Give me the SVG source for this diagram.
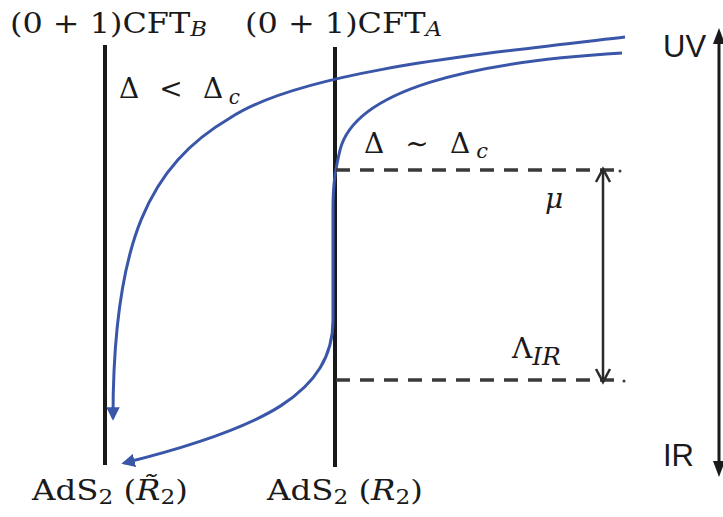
<svg xmlns="http://www.w3.org/2000/svg" width="723" height="517" viewBox="0 0 723 517">
<defs>
<style>
.tx{font-family:"DejaVu Serif","Liberation Serif",serif;font-size:28px;fill:#1a1a1a}
.it{font-style:italic}
.sf{font-family:"Liberation Sans",Arial,sans-serif;font-size:31px;fill:#1a1a1a}
.bar{stroke:#1a1a1a;stroke-width:4;fill:none}
.flow{stroke:#3a56a8;stroke-width:3;fill:none}
.dash{stroke:#3a3a3a;stroke-width:3.5;stroke-dasharray:14 10;fill:none}
.scale{stroke:#2a2a2a;stroke-width:2.5;fill:none}
</style>
<marker id="blueHead" viewBox="0 0 10 10" refX="8" refY="5" markerWidth="4.5" markerHeight="4.5" orient="auto" markerUnits="strokeWidth">
<path d="M0,0 L10,5 L0,10 z" fill="#3a56a8"/>
</marker>
</defs>
<rect width="723" height="517" fill="#ffffff"/>

<g id="cft-b">
<line class="bar" x1="105" y1="45" x2="105" y2="465"/>
<text class="tx" x="10" y="33" textLength="197" lengthAdjust="spacingAndGlyphs">(0 + 1)CFT<tspan class="it" font-size="20" dy="3">B</tspan></text>
<text class="tx" x="32" y="500" textLength="156" lengthAdjust="spacingAndGlyphs">AdS<tspan font-size="20" dy="4">2</tspan><tspan dy="-4"> (</tspan><tspan class="it">R̃</tspan><tspan font-size="20" dy="4">2</tspan><tspan dy="-4">)</tspan></text>
</g>

<g id="cft-a">
<line class="bar" x1="335" y1="47" x2="335" y2="467"/>
<text class="tx" x="245" y="33" textLength="197" lengthAdjust="spacingAndGlyphs">(0 + 1)CFT<tspan class="it" font-size="20" dy="3">A</tspan></text>
<text class="tx" x="267" y="500" textLength="156" lengthAdjust="spacingAndGlyphs">AdS<tspan font-size="20" dy="4">2</tspan><tspan dy="-4"> (</tspan><tspan class="it">R</tspan><tspan font-size="20" dy="4">2</tspan><tspan dy="-4">)</tspan></text>
</g>

<g id="label-less">
<text class="tx" x="119" y="98" font-size="28" textLength="121" lengthAdjust="spacing">Δ &lt; Δ<tspan class="it" font-size="20" dy="6">c</tspan></text>
</g>

<g id="label-sim">
<text class="tx" x="364" y="153" font-size="30" textLength="124" lengthAdjust="spacing">Δ ∼ Δ<tspan class="it" font-size="21" dy="5">c</tspan></text>
</g>

<g id="scale-mu">
<text class="tx it" x="545" y="208" font-size="33">μ</text>
<text class="tx" x="512" y="358" font-size="30">Λ<tspan class="it" font-size="25" dy="7">IR</tspan></text>
</g>

<g id="uv-ir-axis">
<line x1="719" y1="42" x2="719" y2="463" stroke="#1a1a1a" stroke-width="3"/>
<path d="M719,28 L713,44 L725,44 z" fill="#1a1a1a"/>
<path d="M719,477 L713,461 L725,461 z" fill="#1a1a1a"/>
<text class="sf" x="663" y="57">UV</text>
<text class="sf" x="663" y="466">IR</text>
</g>

<g id="connectors">
<path class="flow" d="M625,37 C 470,55 300,72 230,118 C 150,165 113,240 113,418" marker-end="url(#blueHead)"/>
<path class="flow" d="M622,53 C 470,62 355,90 340,150 C 334,175 333,190 333,210 L 333,320 C 333,392 265,428 124,463" marker-end="url(#blueHead)"/>
<line class="dash" x1="336" y1="170" x2="614" y2="170"/>
<circle cx="620" cy="171" r="1.5" fill="#3a3a3a"/>
<line class="dash" x1="336" y1="380" x2="614" y2="380"/>
<circle cx="624" cy="381" r="1.5" fill="#3a3a3a"/>
<line class="scale" x1="603" y1="171" x2="603" y2="380"/>
<path class="scale" d="M596,182 L603,169 L610,182"/>
<path class="scale" d="M596,369 L603,382 L610,369"/>
</g>
</svg>
